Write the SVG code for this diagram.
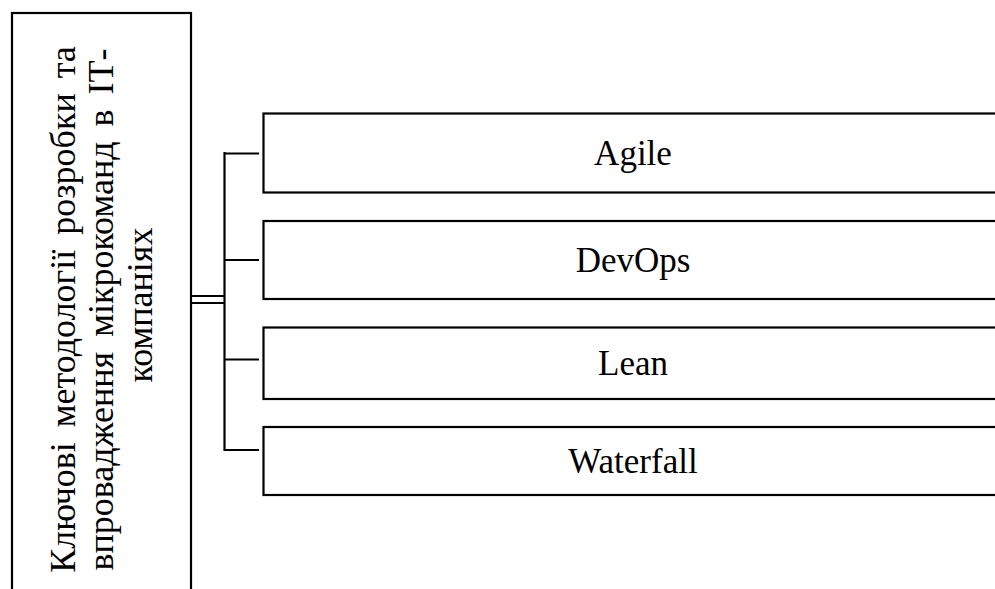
<svg xmlns="http://www.w3.org/2000/svg" width="995" height="589" viewBox="0 0 995 589">
<style>
.box{fill:#fff;stroke:#000;stroke-width:2.2}
.ln{fill:none;stroke:#000;stroke-width:2.2}
.t{font-family:"Liberation Serif","Times New Roman",serif;font-size:35px;fill:#000;text-anchor:middle}
.v{font-size:36px}
.j{word-spacing:6px}
</style>
<rect width="995" height="589" fill="#fff"/>
<g id="main">
<rect class="box" x="12" y="13" width="179" height="600"/>
<text class="t v" transform="translate(0,305) rotate(-90)">
<tspan class="j" x="0" y="75">Ключові методології розробки та</tspan>
<tspan class="j" x="0" y="113">впровадження мікрокоманд в ІТ-</tspan>
<tspan x="0" y="152">компаніях</tspan>
</text>
</g>
<g id="connectors">
<line class="ln" x1="191" y1="296" x2="225" y2="296"/>
<line class="ln" x1="191" y1="303" x2="225" y2="303"/>
<line class="ln" x1="224.5" y1="152" x2="224.5" y2="451"/>
<line class="ln" x1="224.5" y1="153.5" x2="259" y2="153.5"/>
<line class="ln" x1="224.5" y1="260" x2="259" y2="260"/>
<line class="ln" x1="224.5" y1="359.5" x2="259" y2="359.5"/>
<line class="ln" x1="224.5" y1="450" x2="259" y2="450"/>
</g>
<g id="agile">
<rect class="box" x="263.5" y="113.5" width="760" height="79"/>
<text class="t" x="633" y="165">Agile</text>
</g>
<g id="devops">
<rect class="box" x="263.5" y="221" width="760" height="78"/>
<text class="t" x="633" y="272">DevOps</text>
</g>
<g id="lean">
<rect class="box" x="263.5" y="327.5" width="760" height="71.5"/>
<text class="t" x="633" y="375">Lean</text>
</g>
<g id="waterfall">
<rect class="box" x="263.5" y="427" width="760" height="68"/>
<text class="t" x="633" y="473">Waterfall</text>
</g>
</svg>
